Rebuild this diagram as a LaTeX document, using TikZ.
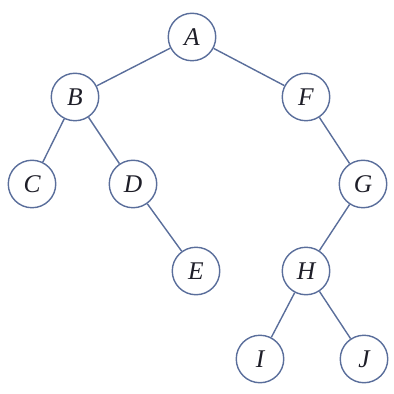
\documentclass[tikz,border=0pt]{standalone}
\usepackage{fontspec}
\setmainfont{Liberation Serif}
\usepackage{xcolor}
\usepackage{tikz}
\usetikzlibrary{positioning}
\definecolor{myblue}{RGB}{90,110,155}
\definecolor{mydark}{RGB}{30,30,40}
\tikzset{
  vertex/.style={circle, draw=myblue, fill=white, minimum size=0.95cm,
    inner sep=0pt, line width=0.8pt, font=\fontsize{14.5}{16}\selectfont\itshape,
    text=mydark},
  edge/.style={myblue, line width=0.8pt}
}
\begin{document}
\begin{tikzpicture}[x=0.02cm, y=-0.02cm]
  \useasboundingbox (0,0) rectangle (393,394);
  % Root
  \node[vertex] (A) at (192,37) {A};
  % Left subtree
  \node[vertex] (B) at (75,97) {B};
  \node[vertex] (C) at (32,184) {C};
  \node[vertex] (D) at (133,184) {D};
  \node[vertex] (E) at (196,271) {E};
  % Right subtree
  \node[vertex] (F) at (306,97) {F};
  \node[vertex] (G) at (363,184) {G};
  \node[vertex] (H) at (306,271) {H};
  \node[vertex] (I) at (260,359) {I};
  \node[vertex] (J) at (364,359) {J};

  % Edges
  \draw[edge] (A) -- (B);
  \draw[edge] (A) -- (F);
  \draw[edge] (B) -- (C);
  \draw[edge] (B) -- (D);
  \draw[edge] (D) -- (E);
  \draw[edge] (F) -- (G);
  \draw[edge] (G) -- (H);
  \draw[edge] (H) -- (I);
  \draw[edge] (H) -- (J);
\end{tikzpicture}
\end{document}
